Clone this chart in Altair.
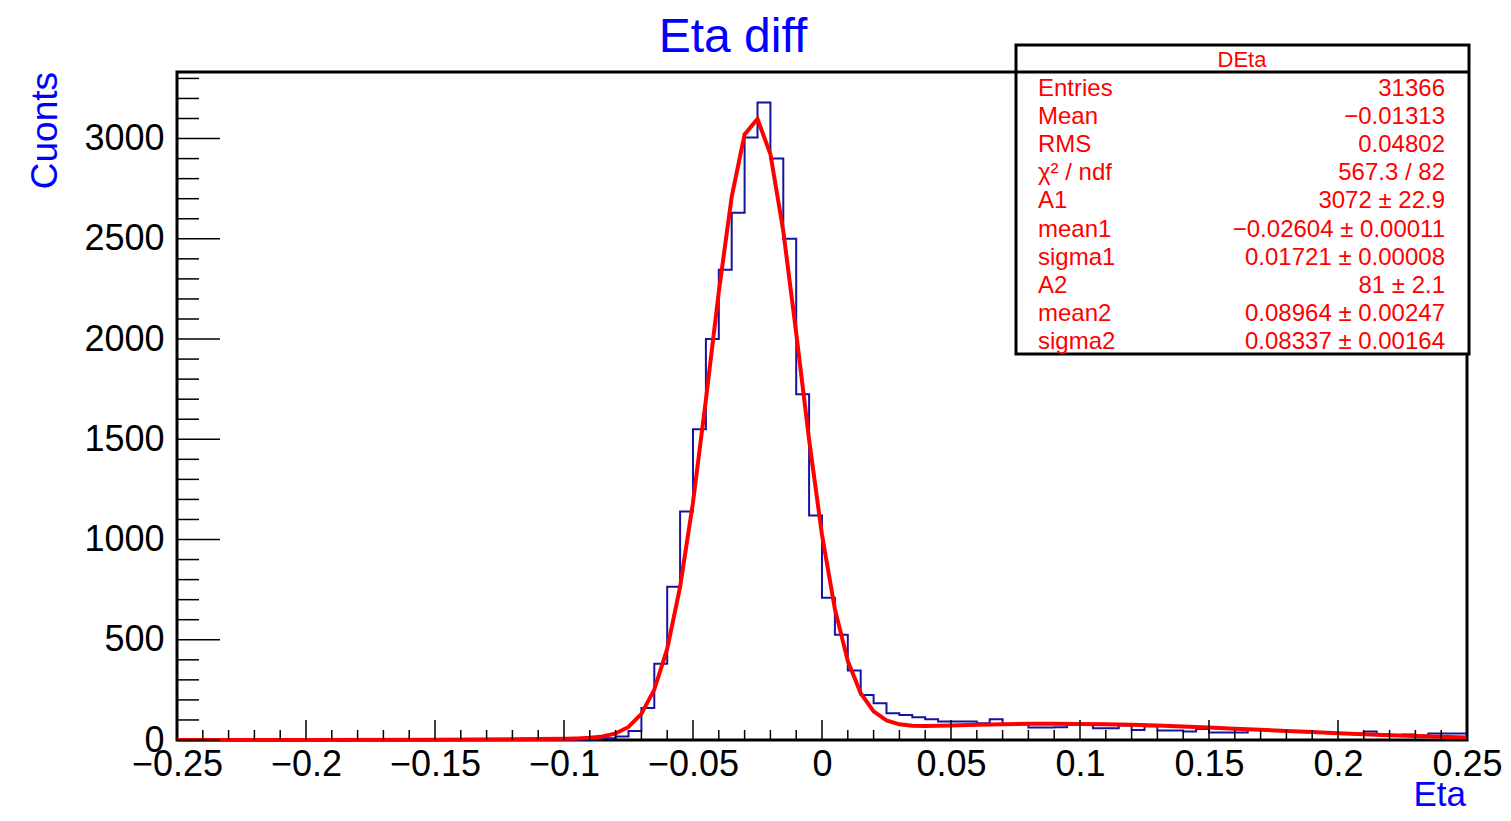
import altair as alt
import numpy as np
import pandas as pd

# ---------------- data ----------------
bin_width = 0.005
x_min, x_max = -0.25, 0.25
counts = [0, 0, 0, 0, 0, 0, 0, 0, 0, 0,
          0, 0, 0, 0, 0, 0, 0, 0, 0, 0,
          1, 0, 0, 0, 0, 1, 0, 0, 1, 1,
          1, 2, 4, 9, 17, 45, 160, 380, 765, 1140,
          1550, 2000, 2345, 2630, 3005, 3180, 2900, 2500, 1725, 1120,
          710, 525, 347, 225, 183, 133, 125, 113, 103, 92,
          92, 92, 83, 103, 80, 78, 62, 62, 64, 75,
          76, 58, 58, 72, 50, 68, 48, 48, 42, 55,
          37, 37, 37, 52, 50, 47, 44, 40, 38, 36,
          33, 30, 42, 28, 25, 28, 22, 33, 33, 33]

fit_x = [-0.25, -0.2, -0.15, -0.12, -0.1, -0.095, -0.09, -0.085, -0.08, -0.075,
         -0.07, -0.065, -0.06, -0.055, -0.05, -0.045, -0.04, -0.035, -0.03, -0.025,
         -0.02, -0.015, -0.01, -0.005, 0.0, 0.005, 0.01, 0.015, 0.02, 0.025,
         0.03, 0.035, 0.04, 0.045, 0.05, 0.06, 0.07, 0.08, 0.09, 0.1,
         0.11, 0.12, 0.13, 0.14, 0.15, 0.16, 0.17, 0.18, 0.19, 0.2,
         0.21, 0.22, 0.23, 0.24, 0.25]
fit_y = [0.0, 0.2, 1.3, 3.4, 6.4, 8.0, 11.0, 17.7, 32.7, 65.2,
         130.6, 251.5, 454.2, 763.6, 1185.5, 1696.6, 2235.2, 2709.5, 3020.9, 3097.5,
         2923.1, 2537.8, 2029.7, 1497.5, 1023.3, 652.4, 394.1, 233.2, 142.8, 97.8,
         78.0, 71.0, 69.8, 70.8, 72.3, 76.0, 78.8, 80.5, 81.0, 80.4,
         78.6, 75.8, 72.0, 67.5, 62.3, 56.7, 50.9, 45.0, 39.3, 33.7,
         28.6, 23.9, 19.6, 15.9, 12.7]

x_tick_labels = [-0.25, -0.2, -0.15, -0.1, -0.05, 0, 0.05, 0.1, 0.15, 0.2, 0.25]
y_tick_labels = [0, 500, 1000, 1500, 2000, 2500, 3000]
y_top = 3332

title_text = "Eta diff"
x_title = "Eta"
y_title = "Cuonts"

stats_name = "DEta"
stats_labels = ["Entries", "Mean", "RMS", "χ² / ndf", "A1", "mean1", "sigma1", "A2", "mean2", "sigma2"]
stats_values = ["31366", "−0.01313", "0.04802", "567.3 / 82", "3072 ± 22.9",
                "−0.02604 ± 0.00011", "0.01721 ± 0.00008", "81 ± 2.1",
                "0.08964 ± 0.00247", "0.08337 ± 0.00164"]

# ---------------- tables ----------------
edges = [round(x_min + bin_width * k, 4) for k in range(len(counts) + 1)]
hist_df = pd.DataFrame({"x": edges, "y": counts + [counts[-1]]})
fit_df = pd.DataFrame({"x": fit_x, "y": fit_y})

x_major = [round(v, 3) for v in np.arange(-0.25, 0.2501, 0.05)]
x_minor = [round(v, 3) for v in np.arange(-0.25, 0.2501, 0.01) if round(v, 3) not in x_major]
y_major = list(range(0, 3001, 500))
y_minor = [v for v in range(0, 3301, 100) if v not in y_major]

W, H = 1290, 668
FONT = "Liberation Sans"

xscale = alt.Scale(domain=[x_min, x_max], nice=False, zero=False)
yscale = alt.Scale(domain=[0, y_top], nice=False)

xaxis = alt.Axis(values=x_tick_labels, format="~g", ticks=False, domain=False, grid=False,
                 labelFontSize=36, labelFont=FONT, labelColor="black", labelPadding=7,
                 labelOverlap=False, labelFlush=False, title=None)
yaxis = alt.Axis(values=y_tick_labels, format="d", ticks=False, domain=False, grid=False,
                 labelFontSize=36, labelFont=FONT, labelColor="black", labelPadding=13,
                 labelOverlap=False, labelFlush=False, title=None)

hist = alt.Chart(hist_df).mark_line(interpolate="step-after", color="#1414a0", strokeWidth=2).encode(
    x=alt.X("x:Q", scale=xscale, axis=xaxis),
    y=alt.Y("y:Q", scale=yscale, axis=yaxis),
)

fit = alt.Chart(fit_df).mark_line(color="#ff0000", strokeWidth=4).encode(
    x=alt.X("x:Q", scale=xscale),
    y=alt.Y("y:Q", scale=yscale),
)

def xticks(vals, length):
    return alt.Chart(pd.DataFrame({"x": vals})).mark_rule(color="black", strokeWidth=1.5).encode(
        x=alt.X("x:Q", scale=xscale), y=alt.value(H), y2=alt.value(H - length))

def yticks(vals, length):
    return alt.Chart(pd.DataFrame({"y": vals})).mark_rule(color="black", strokeWidth=1.5).encode(
        y=alt.Y("y:Q", scale=yscale), x=alt.value(0), x2=alt.value(length))

one = pd.DataFrame({"a": [0]})

title = alt.Chart(one).mark_text(text=title_text, font=FONT, fontSize=48, color="#0000ff",
                                 align="center", baseline="alphabetic").encode(
    x=alt.value(556), y=alt.value(-20))
ytitle = alt.Chart(one).mark_text(text=y_title, font=FONT, fontSize=37, color="#0000ff",
                                  align="right", baseline="alphabetic", angle=270).encode(
    x=alt.value(-120), y=alt.value(0))
xtitle = alt.Chart(one).mark_text(text=x_title, font=FONT, fontSize=35, color="#0000ff",
                                  align="right", baseline="alphabetic").encode(
    x=alt.value(1289), y=alt.value(734))

box = alt.Chart(one).mark_rect(fill="white", stroke="black", strokeWidth=3).encode(
    x=alt.value(839), x2=alt.value(1292), y=alt.value(-27), y2=alt.value(282))
box_sep = alt.Chart(one).mark_rule(color="black", strokeWidth=3).encode(
    x=alt.value(839), x2=alt.value(1292), y=alt.value(0))
box_head = alt.Chart(one).mark_text(text=stats_name, font=FONT, fontSize=22, color="#ff0000",
                                    align="center", baseline="middle").encode(
    x=alt.value(1065), y=alt.value(-12))

row_y = [17, 45, 74, 100, 130, 158, 184, 214, 242, 270]
stats_df = pd.DataFrame({"label": stats_labels, "value": stats_values, "row": list(range(len(stats_labels)))})
row_scale = alt.Scale(domain=[0, 9], range=[row_y[0], row_y[-1]])
stat_lab = alt.Chart(stats_df).mark_text(font=FONT, fontSize=24, color="#ff0000",
                                         align="left", baseline="middle").encode(
    x=alt.value(861), y=alt.Y("row:Q", scale=row_scale, axis=None), text="label:N")
stat_val = alt.Chart(stats_df).mark_text(font=FONT, fontSize=24, color="#ff0000",
                                         align="right", baseline="middle").encode(
    x=alt.value(1268), y=alt.Y("row:Q", scale=row_scale, axis=None), text="value:N")

stats_layer = alt.layer(box, box_sep, box_head, stat_lab, stat_val).resolve_scale(y="independent")

main = alt.layer(
    hist, fit,
    xticks(x_major, 20), xticks(x_minor, 10),
    yticks(y_major, 43), yticks(y_minor, 22),
    title, ytitle, xtitle,
)

chart = alt.layer(main, stats_layer).resolve_scale(y="independent").properties(
    width=W, height=H,
    autosize=alt.AutoSizeParams(type="none"),
    padding={"left": 169, "top": 64, "right": 36, "bottom": 73},
    background="white",
).configure_view(stroke="black", strokeWidth=3)

chart.save("out.html", embed_options={"renderer": "svg", "actions": False})
